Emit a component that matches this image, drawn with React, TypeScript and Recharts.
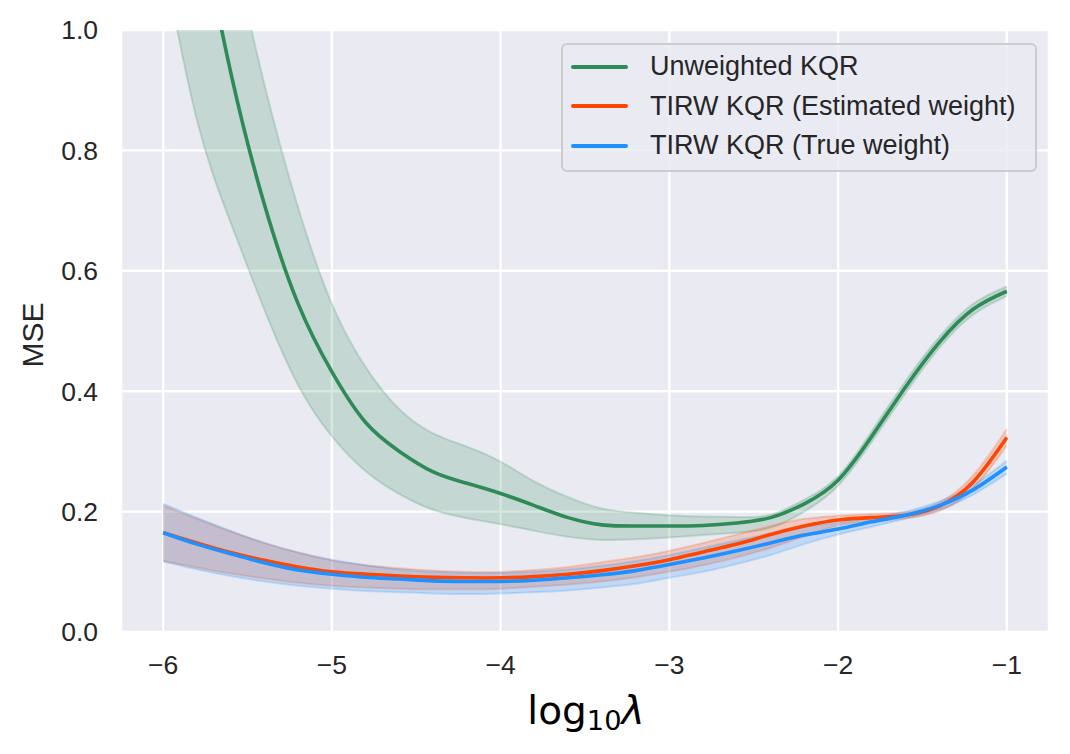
import React from 'react'
import { ComposedChart, Line, Area, XAxis, YAxis, CartesianGrid, Legend } from 'recharts'

// log10(lambda) grid
const lambdas = [-6.0, -5.8, -5.6, -5.4, -5.2, -5.0, -4.8, -4.6, -4.4, -4.2, -4.0, -3.8, -3.6,
  -3.4, -3.2, -3.0, -2.8, -2.6, -2.4, -2.2, -2.0, -1.8, -1.6, -1.4, -1.2, -1.0]

// Unweighted KQR: mean and band
const unweightedMean = [1.45, 1.2, 0.93, 0.71, 0.545, 0.432, 0.348, 0.3, 0.266, 0.247, 0.23, 0.21, 0.19,
  0.178, 0.176, 0.176, 0.177, 0.181, 0.19, 0.213, 0.252, 0.325, 0.407, 0.481, 0.536, 0.566]
const unweightedLo = [1.12, 0.85, 0.68, 0.535, 0.41, 0.325, 0.267, 0.229, 0.203, 0.189, 0.179, 0.168, 0.158,
  0.153, 0.154, 0.157, 0.161, 0.165, 0.173, 0.2, 0.243, 0.316, 0.397, 0.472, 0.527, 0.558]
const unweightedHi = [1.68, 1.4, 1.15, 0.91, 0.705, 0.545, 0.44, 0.37, 0.33, 0.308, 0.283, 0.25, 0.224,
  0.205, 0.198, 0.194, 0.192, 0.191, 0.195, 0.22, 0.259, 0.334, 0.417, 0.49, 0.545, 0.574]

// TIRW KQR (estimated weight)
const estMean = [0.165, 0.148, 0.132, 0.119, 0.108, 0.1, 0.096, 0.093, 0.091, 0.09, 0.09, 0.092, 0.096,
  0.102, 0.11, 0.12, 0.133, 0.146, 0.162, 0.176, 0.186, 0.19, 0.194, 0.209, 0.249, 0.323]
const estLo = [0.118, 0.107, 0.097, 0.089, 0.082, 0.077, 0.074, 0.072, 0.071, 0.071, 0.072, 0.075, 0.079,
  0.084, 0.091, 0.1, 0.111, 0.124, 0.14, 0.159, 0.177, 0.184, 0.189, 0.201, 0.238, 0.31]
const estHi = [0.21, 0.188, 0.167, 0.148, 0.132, 0.119, 0.111, 0.106, 0.102, 0.1, 0.1, 0.103, 0.108,
  0.116, 0.124, 0.135, 0.148, 0.162, 0.176, 0.188, 0.193, 0.196, 0.199, 0.215, 0.26, 0.337]

// TIRW KQR (true weight)
const trueMean = [0.165, 0.146, 0.13, 0.115, 0.103, 0.096, 0.091, 0.088, 0.085, 0.084, 0.084, 0.086, 0.09,
  0.095, 0.102, 0.112, 0.123, 0.135, 0.148, 0.161, 0.171, 0.183, 0.194, 0.21, 0.236, 0.274]
const trueLo = [0.117, 0.104, 0.093, 0.084, 0.077, 0.072, 0.068, 0.066, 0.064, 0.063, 0.064, 0.066, 0.069,
  0.074, 0.08, 0.09, 0.1, 0.113, 0.128, 0.146, 0.162, 0.175, 0.188, 0.203, 0.228, 0.263]
const trueHi = [0.213, 0.19, 0.168, 0.148, 0.132, 0.12, 0.111, 0.104, 0.1, 0.098, 0.098, 0.1, 0.104,
  0.11, 0.118, 0.128, 0.14, 0.152, 0.164, 0.175, 0.181, 0.19, 0.2, 0.217, 0.244, 0.285]

const xTicks = [-6, -5, -4, -3, -2, -1]
const yTicks = [0, 0.2, 0.4, 0.6, 0.8, 1.0]

const seriesNames = ['Unweighted KQR', 'TIRW KQR (Estimated weight)', 'TIRW KQR (True weight)']

const GREEN = '#2e8b57'
const ORANGE = '#ff4500'
const BLUE = '#1e90ff'
const TEXT = '#262626'
const SANS = '"Liberation Sans", Arial, sans-serif'

const data = lambdas.map((x, i) => ({
  x,
  unweighted: unweightedMean[i],
  unweightedBand: [unweightedLo[i], unweightedHi[i]],
  est: estMean[i],
  estBand: [estLo[i], estHi[i]],
  trueW: trueMean[i],
  trueBand: [trueLo[i], trueHi[i]],
}))

function LegendBox(props: any) {
  const items = (props.payload ?? [])
    .filter((p: any) => seriesNames.includes(p.value))
    .sort((a: any, b: any) => seriesNames.indexOf(a.value) - seriesNames.indexOf(b.value))
  return (
    <div style={{
      boxSizing: 'border-box', width: 476, height: 129,
      border: '2px solid #cccccc', borderRadius: 6,
      background: 'rgba(234,234,242,0.8)', paddingTop: 2,
    }}>
      {items.map((item: any) => (
        <div key={item.value} style={{ display: 'flex', alignItems: 'center', height: 39.5 }}>
          <span style={{ marginLeft: 8, width: 57, height: 3.6, borderRadius: 2, background: item.color }} />
          <span style={{ marginLeft: 22, fontSize: 27, lineHeight: 1, color: TEXT, fontFamily: SANS, whiteSpace: 'nowrap' }}>
            {item.value}
          </span>
        </div>
      ))}
    </div>
  )
}

const fmtX = (v: number) => (v < 0 ? '\u2212' + Math.abs(v) : String(v))

export default function App() {
  return (
    <div style={{ position: 'absolute', left: 0, top: 0, width: 1070, height: 754, background: '#fff' }}>
      <ComposedChart
        width={1070}
        height={754}
        data={data}
        margin={{ top: 30, right: 21, bottom: 72, left: 21 }}
      >
        <CartesianGrid fill="#eaeaf2" stroke="#ffffff" strokeWidth={2.4} />
        <XAxis
          dataKey="x"
          type="number"
          domain={[-6.25, -0.75]}
          ticks={xTicks}
          tickFormatter={fmtX}
          allowDataOverflow
          axisLine={false}
          tickLine={false}
          tickSize={0}
          tickMargin={23}
          height={50}
          tick={{ fill: TEXT, fontSize: 26.5, fontFamily: SANS }}
        />
        <YAxis
          type="number"
          domain={[0, 1]}
          ticks={yTicks}
          tickFormatter={(v: number) => v.toFixed(1)}
          allowDataOverflow
          axisLine={false}
          tickLine={false}
          tickSize={0}
          tickMargin={23}
          width={100}
          tick={{ fill: TEXT, fontSize: 26.5, fontFamily: SANS }}
        />
        <Area dataKey="unweightedBand" type="natural" fill={GREEN} fillOpacity={0.2}
          stroke={GREEN} strokeOpacity={0.2} strokeWidth={2} legendType="none" isAnimationActive={false} />
        <Line dataKey="unweighted" name={seriesNames[0]} type="natural" stroke={GREEN} strokeWidth={3.6}
          dot={false} activeDot={false} isAnimationActive={false} />
        <Area dataKey="estBand" type="natural" fill={ORANGE} fillOpacity={0.2}
          stroke={ORANGE} strokeOpacity={0.2} strokeWidth={2} legendType="none" isAnimationActive={false} />
        <Line dataKey="est" name={seriesNames[1]} type="natural" stroke={ORANGE} strokeWidth={3.6}
          dot={false} activeDot={false} isAnimationActive={false} />
        <Area dataKey="trueBand" type="natural" fill={BLUE} fillOpacity={0.2}
          stroke={BLUE} strokeOpacity={0.2} strokeWidth={2} legendType="none" isAnimationActive={false} />
        <Line dataKey="trueW" name={seriesNames[2]} type="natural" stroke={BLUE} strokeWidth={3.6}
          dot={false} activeDot={false} isAnimationActive={false} />
        <Legend
          layout="vertical"
          align="center"
          verticalAlign="middle"
          content={LegendBox}
          wrapperStyle={{ left: 561, top: 43, width: 476, height: 129 }}
        />
      </ComposedChart>

      {/* axis titles */}
      <div style={{
        position: 'absolute', left: 33, top: 335, transform: 'translate(-50%, -50%) rotate(-90deg)',
        fontFamily: SANS, fontSize: 30, color: TEXT, whiteSpace: 'nowrap', lineHeight: 1,
      }}>
        MSE
      </div>
      <div style={{
        position: 'absolute', left: 586, top: 691, transform: 'translateX(-50%)',
        fontFamily: '"DejaVu Sans", sans-serif', fontSize: 39, color: '#000', whiteSpace: 'nowrap', lineHeight: 1,
      }}>
        log<span style={{ fontSize: 27.3, verticalAlign: -6 }}>10</span><span style={{ fontStyle: 'italic' }}>λ</span>
      </div>
    </div>
  )
}
